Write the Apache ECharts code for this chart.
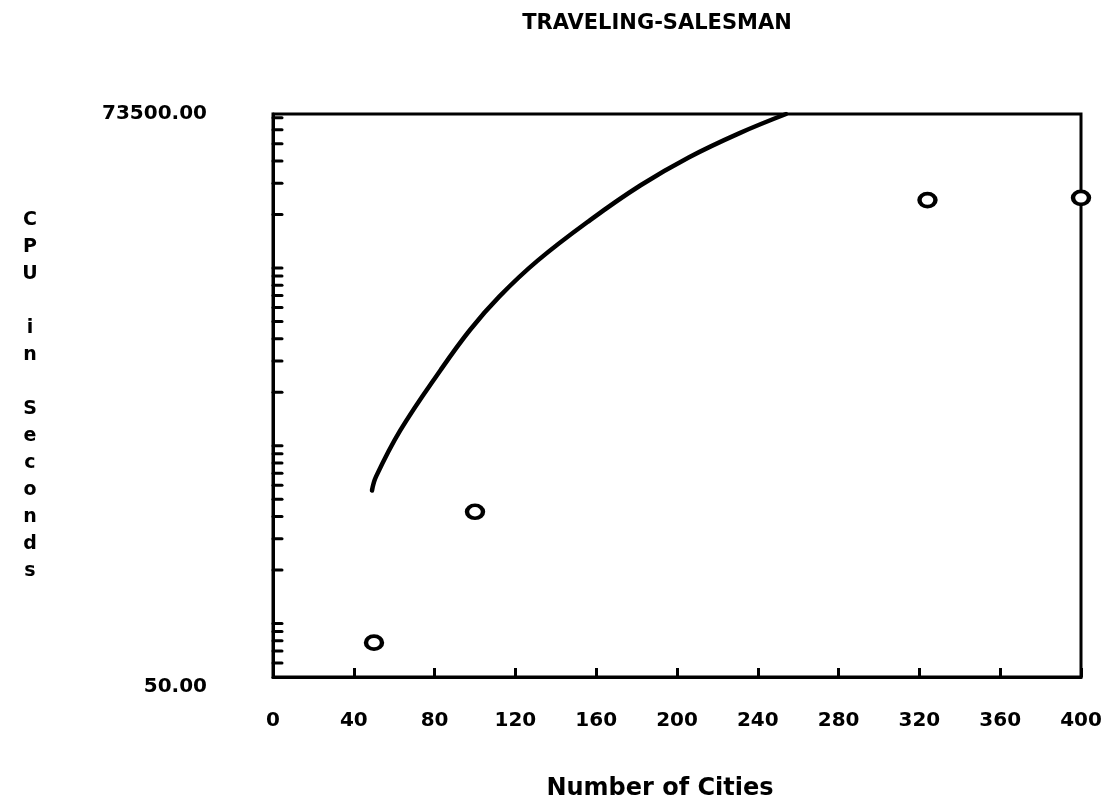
<!DOCTYPE html>
<html>
<head>
<meta charset="utf-8">
<script src="https://cdn.jsdelivr.net/npm/echarts@6/dist/echarts.min.js"></script>
<style>
html,body{margin:0;padding:0;background:#fff;}
#chart{width:1106px;height:801px;}
</style>
</head>
<body>
<div id="chart"></div>
<script>
// ---- data ----
const titleText = 'TRAVELING-SALESMAN';
const xAxisName = 'Number of Cities';
const yAxisName = 'C\nP\nU\n\ni\nn\n\nS\ne\nc\no\nn\nd\ns';
const xMin = 0, xMax = 400, xStep = 40;
const yMin = 50, yMax = 73500;
const yLabelValues = [50, 73500];
// measured runs: [cities, cpu seconds]
const measuredCities = [50, 100, 324, 400];
const measuredCpu = [78, 425, 24100, 24800];
// fitted curve
const curveCities = [49, 51, 63, 83, 97.5, 112, 131, 157, 182, 206, 231, 254];
const curveCpu = [560, 670, 1220, 2670, 4480, 6900, 11000, 18600, 29200, 42000, 57400, 73500];
// log-axis minor tick values drawn along the left axis
const yTickValues = [60, 70, 80, 90,
  100, 200, 300, 400, 500, 600, 700, 800, 900,
  1000, 2000, 3000, 4000, 5000, 6000, 7000, 8000, 9000,
  10000, 20000, 30000, 40000, 50000, 60000, 70000];

const font = 'DejaVu Sans';
const chart = echarts.init(document.getElementById('chart'), null, {renderer: 'canvas'});

const labelStyle = {fontFamily: font, fontWeight: 'bold', fontSize: 20, color: '#000'};

const option = {
  backgroundColor: '#fff',
  animation: false,
  title: {
    text: titleText,
    left: 652,
    top: 8,
    textAlign: 'center',
    textStyle: {fontFamily: font, fontWeight: 'bold', fontSize: 21, color: '#000'}
  },
  grid: {
    left: 273, right: 25, top: 114, bottom: 124,
    containLabel: false,
    outerBoundsMode: 'none',
    show: true, borderColor: '#000', borderWidth: 3, backgroundColor: 'transparent'
  },
  xAxis: {
    type: 'value',
    min: xMin, max: xMax, interval: xStep,
    name: xAxisName,
    nameLocation: 'middle',
    nameGap: 100,
    nameTextStyle: {fontFamily: font, fontWeight: 'bold', fontSize: 24, color: '#000', padding: [0, 34, 0, 0]},
    axisLine: {show: true, lineStyle: {color: '#000', width: 3}},
    axisTick: {show: true, inside: true, length: 9, lineStyle: {color: '#000', width: 3}},
    splitLine: {show: false},
    axisLabel: Object.assign({margin: 34}, labelStyle)
  },
  yAxis: {
    type: 'log',
    logBase: 10,
    min: yMin, max: yMax,
    name: yAxisName,
    nameLocation: 'middle',
    nameRotate: 0,
    nameGap: 243,
    nameTextStyle: {fontFamily: font, fontWeight: 'bold', fontSize: 19, color: '#000', lineHeight: 27, align: 'center'},
    axisLine: {show: true, lineStyle: {color: '#000', width: 3}},
    axisTick: {show: false},
    splitLine: {show: false},
    minorTick: {show: false},
    axisLabel: Object.assign({
      margin: 66,
      showMinLabel: true, showMaxLabel: true,
      rich: {
        lo: Object.assign({padding: [20, 0, 0, 0]}, labelStyle),
        hi: Object.assign({}, labelStyle)
      },
      formatter: function (v) {
        for (let i = 0; i < yLabelValues.length; i++) {
          const t = yLabelValues[i];
          if (Math.abs(v - t) / t < 1e-4) {
            return (i === 0 ? '{lo|' : '{hi|') + t.toFixed(2) + '}';
          }
        }
        return '';
      }
    }, labelStyle)
  },
  series: [
    {
      type: 'custom',
      name: 'yticks',
      silent: true,
      clip: false,
      data: yTickValues.map(v => [xMin, v]),
      renderItem: function (params, api) {
        const p = api.coord([api.value(0), api.value(1)]);
        return {
          type: 'line',
          shape: {x1: p[0], y1: p[1], x2: p[0] + 9, y2: p[1]},
          style: {stroke: '#000', lineWidth: 3, lineCap: 'round'}
        };
      },
      z: 3
    },
    {
      type: 'line',
      name: 'curve',
      data: curveCities.map((c, i) => [c, curveCpu[i]]),
      smooth: 0.4,
      showSymbol: false,
      symbol: 'none',
      clip: true,
      lineStyle: {color: '#000', width: 4.5, cap: 'round'},
      z: 4
    },
    {
      type: 'scatter',
      name: 'measured',
      data: measuredCities.map((c, i) => [c, measuredCpu[i]]),
      symbol: 'circle',
      symbolSize: [16, 13],
      clip: false,
      itemStyle: {color: '#fff', borderColor: '#000', borderWidth: 4, opacity: 1},
      z: 5
    }
  ]
};
chart.setOption(option);
</script>
</body>
</html>
